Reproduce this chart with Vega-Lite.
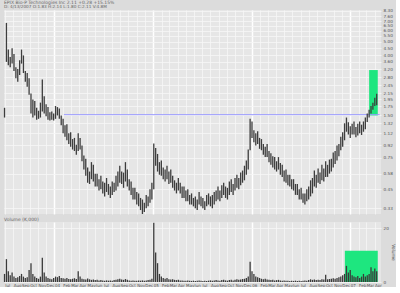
{
"$schema":"https://vega.github.io/schema/vega-lite/v6.json",
"background":"#dcdcdc",
"padding":{"left":3,"top":0,"right":0,"bottom":0},
"title":{"text":"EPIX Bio-P Technologies Inc   2.11   +0.28  +15.15%","subtitle":"D: 4/13/2007  O:1.83  H:2.14  L:1.80  C:2.11  V:4.8M","anchor":"start","frame":"group","fontSize":4.5,"subtitleFontSize":4.2,"font":"DejaVu Sans","subtitleFont":"DejaVu Sans","fontWeight":"normal","color":"#666","subtitleColor":"#666","offset":0,"subtitlePadding":0},
"spacing":1,
"datasets":{"p":[
{"d":"2003-06-30","h":1.7,"l":1.45,"v":3},
{"d":"2003-07-07","h":6.8,"l":3.6,"v":8.5},
{"d":"2003-07-14","h":4.4,"l":3.4,"v":4},
{"d":"2003-07-21","h":3.9,"l":3.3,"v":2.5},
{"d":"2003-07-28","h":4.5,"l":3.5,"v":3.5},
{"d":"2003-08-04","h":4.1,"l":3.1,"v":2},
{"d":"2003-08-11","h":3.3,"l":2.75,"v":1.5},
{"d":"2003-08-18","h":3.2,"l":2.6,"v":1.8},
{"d":"2003-08-25","h":3.7,"l":2.9,"v":2.2},
{"d":"2003-09-01","h":4.4,"l":3.5,"v":3},
{"d":"2003-09-08","h":4.0,"l":3.0,"v":2},
{"d":"2003-09-15","h":3.1,"l":2.6,"v":1.5},
{"d":"2003-09-22","h":3.0,"l":2.4,"v":1.8},
{"d":"2003-09-29","h":2.75,"l":2.1,"v":4.5},
{"d":"2003-10-06","h":2.15,"l":1.55,"v":7},
{"d":"2003-10-13","h":1.95,"l":1.45,"v":3},
{"d":"2003-10-20","h":1.9,"l":1.5,"v":2},
{"d":"2003-10-27","h":1.7,"l":1.4,"v":1.5},
{"d":"2003-11-03","h":1.62,"l":1.42,"v":1.2},
{"d":"2003-11-10","h":1.85,"l":1.45,"v":2},
{"d":"2003-11-17","h":2.7,"l":1.6,"v":9},
{"d":"2003-11-24","h":2.05,"l":1.55,"v":3.5},
{"d":"2003-12-01","h":1.8,"l":1.48,"v":2},
{"d":"2003-12-08","h":1.72,"l":1.4,"v":1.5},
{"d":"2003-12-15","h":1.58,"l":1.38,"v":1.2},
{"d":"2003-12-22","h":1.6,"l":1.4,"v":1},
{"d":"2003-12-29","h":1.55,"l":1.38,"v":1.5},
{"d":"2004-01-05","h":1.75,"l":1.42,"v":2},
{"d":"2004-01-12","h":1.72,"l":1.5,"v":1.8},
{"d":"2004-01-19","h":1.68,"l":1.42,"v":2.2},
{"d":"2004-01-26","h":1.5,"l":1.28,"v":1.5},
{"d":"2004-02-02","h":1.42,"l":1.12,"v":1.4},
{"d":"2004-02-09","h":1.28,"l":1.06,"v":1.2},
{"d":"2004-02-16","h":1.3,"l":1.0,"v":1.5},
{"d":"2004-02-23","h":1.12,"l":0.94,"v":1.1},
{"d":"2004-03-01","h":1.14,"l":0.9,"v":1},
{"d":"2004-03-08","h":1.02,"l":0.86,"v":1.2},
{"d":"2004-03-15","h":1.04,"l":0.84,"v":1.4},
{"d":"2004-03-22","h":0.93,"l":0.79,"v":1.1},
{"d":"2004-03-29","h":1.12,"l":0.84,"v":4},
{"d":"2004-04-05","h":1.04,"l":0.86,"v":2},
{"d":"2004-04-12","h":0.92,"l":0.71,"v":1.2},
{"d":"2004-04-19","h":0.78,"l":0.62,"v":1},
{"d":"2004-04-26","h":0.74,"l":0.56,"v":0.9},
{"d":"2004-05-03","h":0.64,"l":0.5,"v":1.3},
{"d":"2004-05-10","h":0.6,"l":0.49,"v":1},
{"d":"2004-05-17","h":0.7,"l":0.53,"v":0.8},
{"d":"2004-05-24","h":0.67,"l":0.51,"v":0.9},
{"d":"2004-05-31","h":0.58,"l":0.47,"v":0.7},
{"d":"2004-06-07","h":0.58,"l":0.47,"v":0.8},
{"d":"2004-06-14","h":0.53,"l":0.44,"v":0.6},
{"d":"2004-06-21","h":0.56,"l":0.45,"v":0.7},
{"d":"2004-06-28","h":0.51,"l":0.42,"v":0.6},
{"d":"2004-07-05","h":0.5,"l":0.4,"v":0.5},
{"d":"2004-07-12","h":0.54,"l":0.43,"v":0.6},
{"d":"2004-07-19","h":0.49,"l":0.41,"v":0.5},
{"d":"2004-07-26","h":0.47,"l":0.39,"v":0.6},
{"d":"2004-08-02","h":0.51,"l":0.41,"v":0.5},
{"d":"2004-08-09","h":0.5,"l":0.43,"v":0.7},
{"d":"2004-08-16","h":0.56,"l":0.44,"v":0.8},
{"d":"2004-08-23","h":0.6,"l":0.47,"v":1},
{"d":"2004-08-30","h":0.66,"l":0.5,"v":1.2},
{"d":"2004-09-06","h":0.6,"l":0.49,"v":0.9},
{"d":"2004-09-13","h":0.59,"l":0.46,"v":0.8},
{"d":"2004-09-20","h":0.7,"l":0.51,"v":1.1},
{"d":"2004-09-27","h":0.62,"l":0.47,"v":0.8},
{"d":"2004-10-04","h":0.53,"l":0.44,"v":0.6},
{"d":"2004-10-11","h":0.51,"l":0.41,"v":0.5},
{"d":"2004-10-18","h":0.46,"l":0.38,"v":0.6},
{"d":"2004-10-25","h":0.46,"l":0.38,"v":0.5},
{"d":"2004-11-01","h":0.43,"l":0.35,"v":0.5},
{"d":"2004-11-08","h":0.42,"l":0.34,"v":0.6},
{"d":"2004-11-15","h":0.39,"l":0.32,"v":0.5},
{"d":"2004-11-22","h":0.38,"l":0.3,"v":0.6},
{"d":"2004-11-29","h":0.36,"l":0.31,"v":0.5},
{"d":"2004-12-06","h":0.41,"l":0.33,"v":0.6},
{"d":"2004-12-13","h":0.4,"l":0.34,"v":0.7},
{"d":"2004-12-20","h":0.45,"l":0.36,"v":0.8},
{"d":"2004-12-27","h":0.5,"l":0.38,"v":1.2},
{"d":"2005-01-03","h":0.95,"l":0.45,"v":22},
{"d":"2005-01-10","h":0.88,"l":0.66,"v":11},
{"d":"2005-01-17","h":0.8,"l":0.6,"v":7},
{"d":"2005-01-24","h":0.7,"l":0.57,"v":3},
{"d":"2005-01-31","h":0.72,"l":0.56,"v":2},
{"d":"2005-02-07","h":0.64,"l":0.53,"v":1.5},
{"d":"2005-02-14","h":0.62,"l":0.51,"v":1.2},
{"d":"2005-02-21","h":0.66,"l":0.53,"v":1.5},
{"d":"2005-02-28","h":0.6,"l":0.49,"v":1},
{"d":"2005-03-07","h":0.62,"l":0.5,"v":0.9},
{"d":"2005-03-14","h":0.56,"l":0.46,"v":1},
{"d":"2005-03-21","h":0.52,"l":0.44,"v":0.8},
{"d":"2005-03-28","h":0.5,"l":0.42,"v":0.7},
{"d":"2005-04-04","h":0.54,"l":0.44,"v":0.8},
{"d":"2005-04-11","h":0.5,"l":0.42,"v":0.6},
{"d":"2005-04-18","h":0.47,"l":0.39,"v":0.6},
{"d":"2005-04-25","h":0.47,"l":0.39,"v":0.5},
{"d":"2005-05-02","h":0.44,"l":0.37,"v":0.5},
{"d":"2005-05-09","h":0.45,"l":0.37,"v":0.6},
{"d":"2005-05-16","h":0.41,"l":0.35,"v":0.5},
{"d":"2005-05-23","h":0.42,"l":0.35,"v":0.4},
{"d":"2005-05-30","h":0.39,"l":0.34,"v":0.5},
{"d":"2005-06-06","h":0.4,"l":0.33,"v":0.4},
{"d":"2005-06-13","h":0.38,"l":0.32,"v":0.5},
{"d":"2005-06-20","h":0.43,"l":0.35,"v":0.6},
{"d":"2005-06-27","h":0.4,"l":0.34,"v":0.5},
{"d":"2005-07-04","h":0.39,"l":0.33,"v":0.4},
{"d":"2005-07-11","h":0.37,"l":0.32,"v":0.5},
{"d":"2005-07-18","h":0.41,"l":0.34,"v":0.4},
{"d":"2005-07-25","h":0.42,"l":0.35,"v":0.5},
{"d":"2005-08-01","h":0.4,"l":0.34,"v":0.6},
{"d":"2005-08-08","h":0.41,"l":0.33,"v":0.5},
{"d":"2005-08-15","h":0.43,"l":0.35,"v":0.6},
{"d":"2005-08-22","h":0.44,"l":0.37,"v":0.7},
{"d":"2005-08-29","h":0.47,"l":0.38,"v":0.6},
{"d":"2005-09-05","h":0.44,"l":0.37,"v":0.5},
{"d":"2005-09-12","h":0.48,"l":0.39,"v":0.7},
{"d":"2005-09-19","h":0.5,"l":0.41,"v":0.8},
{"d":"2005-09-26","h":0.47,"l":0.39,"v":0.6},
{"d":"2005-10-03","h":0.46,"l":0.38,"v":0.5},
{"d":"2005-10-10","h":0.51,"l":0.41,"v":0.7},
{"d":"2005-10-17","h":0.53,"l":0.43,"v":0.8},
{"d":"2005-10-24","h":0.49,"l":0.41,"v":0.6},
{"d":"2005-10-31","h":0.54,"l":0.44,"v":0.8},
{"d":"2005-11-07","h":0.57,"l":0.46,"v":1},
{"d":"2005-11-14","h":0.54,"l":0.45,"v":0.8},
{"d":"2005-11-21","h":0.59,"l":0.48,"v":0.9},
{"d":"2005-11-28","h":0.61,"l":0.5,"v":1.1},
{"d":"2005-12-05","h":0.66,"l":0.52,"v":1.2},
{"d":"2005-12-12","h":0.72,"l":0.57,"v":1.5},
{"d":"2005-12-19","h":0.86,"l":0.62,"v":2},
{"d":"2005-12-26","h":1.42,"l":0.85,"v":7.5},
{"d":"2006-01-02","h":1.36,"l":1.04,"v":4},
{"d":"2006-01-09","h":1.18,"l":0.97,"v":3},
{"d":"2006-01-16","h":1.12,"l":0.92,"v":2},
{"d":"2006-01-23","h":1.16,"l":0.94,"v":1.8},
{"d":"2006-01-30","h":1.04,"l":0.87,"v":1.5},
{"d":"2006-02-06","h":1.02,"l":0.85,"v":1.2},
{"d":"2006-02-13","h":0.94,"l":0.79,"v":1},
{"d":"2006-02-20","h":0.9,"l":0.76,"v":1.2},
{"d":"2006-02-27","h":0.94,"l":0.76,"v":0.9},
{"d":"2006-03-06","h":0.84,"l":0.7,"v":0.8},
{"d":"2006-03-13","h":0.81,"l":0.67,"v":0.7},
{"d":"2006-03-20","h":0.77,"l":0.64,"v":0.8},
{"d":"2006-03-27","h":0.76,"l":0.62,"v":0.6},
{"d":"2006-04-03","h":0.71,"l":0.6,"v":0.7},
{"d":"2006-04-10","h":0.76,"l":0.62,"v":0.8},
{"d":"2006-04-17","h":0.69,"l":0.57,"v":0.6},
{"d":"2006-04-24","h":0.67,"l":0.55,"v":0.5},
{"d":"2006-05-01","h":0.61,"l":0.51,"v":0.6},
{"d":"2006-05-08","h":0.62,"l":0.5,"v":0.5},
{"d":"2006-05-15","h":0.57,"l":0.48,"v":0.5},
{"d":"2006-05-22","h":0.57,"l":0.47,"v":0.4},
{"d":"2006-05-29","h":0.53,"l":0.45,"v":0.5},
{"d":"2006-06-05","h":0.53,"l":0.44,"v":0.4},
{"d":"2006-06-12","h":0.49,"l":0.41,"v":0.5},
{"d":"2006-06-19","h":0.49,"l":0.41,"v":0.4},
{"d":"2006-06-26","h":0.45,"l":0.38,"v":0.5},
{"d":"2006-07-03","h":0.46,"l":0.38,"v":0.4},
{"d":"2006-07-10","h":0.42,"l":0.36,"v":0.5},
{"d":"2006-07-17","h":0.42,"l":0.35,"v":0.6},
{"d":"2006-07-24","h":0.45,"l":0.37,"v":0.5},
{"d":"2006-07-31","h":0.47,"l":0.38,"v":0.7},
{"d":"2006-08-07","h":0.52,"l":0.4,"v":1},
{"d":"2006-08-14","h":0.54,"l":0.42,"v":0.8},
{"d":"2006-08-21","h":0.61,"l":0.47,"v":0.9},
{"d":"2006-08-28","h":0.57,"l":0.46,"v":0.7},
{"d":"2006-09-04","h":0.63,"l":0.5,"v":0.8},
{"d":"2006-09-11","h":0.59,"l":0.49,"v":0.7},
{"d":"2006-09-18","h":0.67,"l":0.52,"v":1},
{"d":"2006-09-25","h":0.63,"l":0.51,"v":0.9},
{"d":"2006-10-02","h":0.71,"l":0.55,"v":2.7},
{"d":"2006-10-09","h":0.67,"l":0.55,"v":1},
{"d":"2006-10-16","h":0.73,"l":0.58,"v":1.1},
{"d":"2006-10-23","h":0.74,"l":0.6,"v":1.2},
{"d":"2006-10-30","h":0.82,"l":0.64,"v":1.4},
{"d":"2006-11-06","h":0.84,"l":0.68,"v":1.2},
{"d":"2006-11-13","h":0.92,"l":0.72,"v":1.5},
{"d":"2006-11-20","h":0.94,"l":0.77,"v":1.8},
{"d":"2006-11-27","h":1.06,"l":0.85,"v":2},
{"d":"2006-12-04","h":1.14,"l":0.9,"v":2.5},
{"d":"2006-12-11","h":1.32,"l":1.0,"v":3},
{"d":"2006-12-18","h":1.45,"l":1.15,"v":6},
{"d":"2006-12-25","h":1.34,"l":1.1,"v":3.5},
{"d":"2007-01-01","h":1.26,"l":1.04,"v":4.5},
{"d":"2007-01-08","h":1.31,"l":1.1,"v":2.5},
{"d":"2007-01-15","h":1.36,"l":1.1,"v":2},
{"d":"2007-01-22","h":1.24,"l":1.05,"v":1.8},
{"d":"2007-01-29","h":1.31,"l":1.08,"v":2.2},
{"d":"2007-02-05","h":1.36,"l":1.12,"v":1.5},
{"d":"2007-02-12","h":1.29,"l":1.09,"v":2},
{"d":"2007-02-19","h":1.36,"l":1.15,"v":3},
{"d":"2007-02-26","h":1.45,"l":1.2,"v":2},
{"d":"2007-03-05","h":1.55,"l":1.35,"v":2.5},
{"d":"2007-03-12","h":1.65,"l":1.45,"v":3},
{"d":"2007-03-19","h":1.75,"l":1.55,"v":5.5},
{"d":"2007-03-26","h":1.85,"l":1.65,"v":4},
{"d":"2007-04-02","h":2.0,"l":1.75,"v":5},
{"d":"2007-04-09","h":2.14,"l":1.77,"v":4}
]},
"vconcat":[
{
"width":377,"height":204,
"layer":[
{"data":{"values":[{"a":"2007-03-12","b":"2007-04-13","y1":1.5,"y2":3.15}]},
 "mark":{"type":"rect","color":"#1ee67f"},
 "encoding":{
  "x":{"field":"a","type":"temporal","scale":{"type":"utc","domain":[{"year":2003,"month":6,"date":28,"utc":true},{"year":2007,"month":4,"date":25,"utc":true}]},
   "axis":{"title":null,"labels":false,"ticks":false,"domain":false,"grid":true,"gridColor":{"condition":{"test":"utcmonth(datum.value)==0","value":"#ffffff"},"value":"#f6f6f6"},"gridWidth":{"condition":{"test":"utcmonth(datum.value)==0","value":1.5},"value":0.8},"tickCount":{"interval":"month","step":1}}},
  "x2":{"field":"b"},
  "y":{"field":"y1","type":"quantitative","scale":{"type":"log","domain":[0.3,8.4],"nice":false},
   "axis":{"orient":"right","title":null,"values":[0.33,0.45,0.58,0.75,0.92,1.12,1.32,1.5,1.75,1.95,2.15,2.45,2.8,3.2,3.6,4.0,4.5,5.0,5.5,6.0,6.5,7.0,7.6,8.3],"format":".2f","labelOverlap":false,"labelFontSize":4.2,"labelColor":"#555","labelFont":"DejaVu Sans","labelPadding":2,"ticks":false,"domain":false,"grid":true,"gridColor":"#f6f6f6","gridWidth":0.8}},
  "y2":{"field":"y2"}}},
{"data":{"values":[{"a":"2004-02-05","b":"2007-04-20","y":1.52}]},
 "mark":{"type":"rule","color":"#9b9bff","strokeWidth":1},
 "encoding":{"x":{"field":"a","type":"temporal"},"x2":{"field":"b"},"y":{"field":"y","type":"quantitative"}}},
{"data":{"name":"p"},
 "mark":{"type":"rule","color":"#3d3d3d","strokeWidth":1.3},
 "encoding":{"x":{"field":"d","type":"temporal"},"y":{"field":"l","type":"quantitative"},"y2":{"field":"h"}}}
]
},
{
"width":377,"height":60,
"title":{"text":"Volume (K,000)","anchor":"start","fontSize":4.5,"font":"DejaVu Sans","fontWeight":"normal","color":"#666","offset":1,"frame":"group"},
"layer":[
{"data":{"values":[{"a":"2006-12-12","b":"2007-04-13","y1":0,"y2":11.6}]},
 "mark":{"type":"rect","color":"#1ee67f"},
 "encoding":{
  "x":{"field":"a","type":"temporal","scale":{"type":"utc","domain":[{"year":2003,"month":6,"date":28,"utc":true},{"year":2007,"month":4,"date":25,"utc":true}]},
   "axis":{"title":null,"labelFontSize":4,"labelColor":"#555","labelFont":"DejaVu Sans","labelPadding":1,"labelOverlap":false,"labelAlign":"left","labelBaseline":"top","labelExpr":"utcmonth(datum.value)==0 ? utcFormat(datum.value,'%y') : utcFormat(datum.value,'%b')","ticks":false,"domain":false,"grid":true,"gridColor":{"condition":{"test":"utcmonth(datum.value)==0","value":"#ffffff"},"value":"#f6f6f6"},"gridWidth":{"condition":{"test":"utcmonth(datum.value)==0","value":1.5},"value":0.8},"tickCount":{"interval":"month","step":1}}},
  "x2":{"field":"b"},
  "y":{"field":"y1","type":"quantitative","scale":{"domain":[0,22.3],"nice":false},
   "axis":{"orient":"right","title":"Volume","titleFontSize":4.5,"titleFont":"DejaVu Sans","titleFontWeight":"normal","titleColor":"#555","titlePadding":2,"values":[0,2.5,5,7.5,10,12.5,15,17.5,20],"labelOverlap":false,"labelFontSize":4.2,"labelColor":"#555","labelFont":"DejaVu Sans","labelPadding":2,"ticks":false,"domain":false,"grid":true,"gridColor":"#f6f6f6","gridWidth":0.8}},
  "y2":{"field":"y2"}}},
{"data":{"name":"p"},
 "mark":{"type":"rule","color":"#3a3a3a","strokeWidth":1.3},
 "encoding":{"x":{"field":"d","type":"temporal"},"y":{"field":"v","type":"quantitative"},"y2":{"datum":0}}}
]
}
],
"config":{"view":{"fill":"#e6e6e6","stroke":null}}
}
